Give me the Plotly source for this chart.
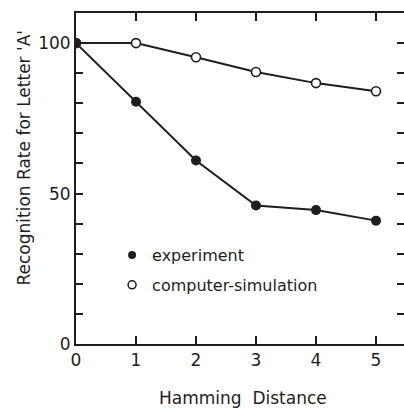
import plotly.graph_objects as go

hamming = [0, 1, 2, 3, 4, 5]
experiment = [100, 80.5, 61, 46, 44.5, 41]
simulation = [100, 100, 95.3, 90.4, 86.7, 84]
series_names = ["experiment", "computer-simulation"]
y_labels = [0, 50, 100]
right_ticks = [10, 20, 30, 40, 50, 60, 70, 80, 90, 100]
x_title = "Hamming  Distance"
y_title = "Recognition Rate for Letter 'A'"

INK = "#1e1e1e"
FONT = "DejaVu Sans"

fig = go.Figure()
fig.add_trace(go.Scatter(x=hamming, y=simulation, mode="lines+markers",
                         line=dict(color=INK, width=2),
                         marker=dict(symbol="circle", size=9, color="white",
                                     line=dict(color=INK, width=1.6)),
                         showlegend=False))
fig.add_trace(go.Scatter(x=hamming, y=experiment, mode="lines+markers",
                         line=dict(color=INK, width=2),
                         marker=dict(symbol="circle", size=10, color=INK),
                         showlegend=False))
# anchor trace so the right-hand tick axis is drawn
fig.add_trace(go.Scatter(x=[None], y=[None], yaxis="y2", showlegend=False,
                         hoverinfo="skip"))
# legend-only entries (markers only)
fig.add_trace(go.Scatter(x=[None], y=[None], mode="markers", name=series_names[0],
                         marker=dict(symbol="circle", size=8, color=INK),
                         legendgroup="a"))
fig.add_trace(go.Scatter(x=[None], y=[None], mode="markers", name=series_names[1],
                         marker=dict(symbol="circle", size=8, color="white",
                                     line=dict(color=INK, width=1.5)),
                         legendgroup="b"))

fig.update_layout(
    width=404, height=410,
    margin=dict(l=76, r=0, t=13, b=66),
    plot_bgcolor="white", paper_bgcolor="white",
    font=dict(family=FONT, color=INK, size=15),
    showlegend=True,
    legend=dict(x=0.11, y=0.32, xanchor="left", yanchor="top",
                bgcolor="rgba(0,0,0,0)", font=dict(size=16, family=FONT),
                tracegroupgap=6, itemwidth=30),
    xaxis=dict(range=[0, 328 / 60], tickvals=hamming, ticks="inside", ticklen=8,
               tickwidth=2, tickcolor=INK, showline=True, linecolor=INK, linewidth=2,
               mirror="ticks", showgrid=False, zeroline=False, automargin=False,
               tickfont=dict(size=17, family=FONT)),
    yaxis=dict(range=[0, 110], tickvals=y_labels, ticks="inside", ticklen=7,
               tickwidth=2, tickcolor=INK, showline=True, linecolor=INK, linewidth=2,
               showgrid=False, zeroline=False, automargin=False,
               minor=dict(dtick=10, tick0=0, ticks="inside", ticklen=7, tickwidth=1.5,
                          tickcolor=INK, showgrid=False),
               tickfont=dict(size=17, family=FONT)),
    yaxis2=dict(range=[0, 110], overlaying="y", side="right", anchor="x",
                tickvals=right_ticks, automargin=False,
                ticks="inside", ticklen=7, tickwidth=2, tickcolor=INK,
                showticklabels=False, showline=False, showgrid=False, zeroline=False),
    annotations=[
        dict(text=x_title, xref="paper", yref="paper", x=0.509, y=-0.163,
             xanchor="center", yanchor="middle", showarrow=False,
             font=dict(size=17, family=FONT, color=INK)),
        dict(text=y_title, xref="paper", yref="paper", x=-0.16, y=0.562,
             xanchor="center", yanchor="middle", textangle=-90, showarrow=False,
             font=dict(size=17, family=FONT, color=INK)),
    ],
)

fig.write_html("out.html", config={"displayModeBar": False},
               post_script="document.body.style.margin='0';"
                           "document.body.style.overflow='hidden';")
